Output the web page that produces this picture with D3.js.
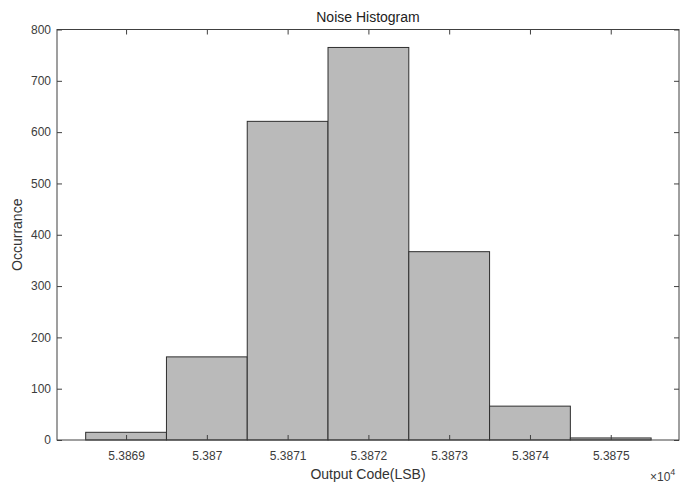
<!DOCTYPE html>
<html><head><meta charset="utf-8">
<script src="https://cdn.jsdelivr.net/npm/d3@7"></script>
<style>body{margin:0;background:#fff}svg{display:block}text{font-family:"Liberation Sans",Arial,sans-serif}</style>
</head><body>
<svg id="c" width="681" height="484"></svg>
<script>
const binCenters = [53869, 53870, 53871, 53872, 53873, 53874, 53875];
const counts = [15, 162, 621, 765, 367, 66, 4];
const xTicks = [53869, 53870, 53871, 53872, 53873, 53874, 53875];
const xTickLabels = ["5.3869", "5.387", "5.3871", "5.3872", "5.3873", "5.3874", "5.3875"];
const yTicks = [0, 100, 200, 300, 400, 500, 600, 700, 800];

const svg = d3.select("#c");
const L = 57, R = 679, T = 29.5, B = 440;
const x = d3.scaleLinear().domain([53868.145, 53875.845]).range([L, R]);
const y = d3.scaleLinear().domain([0, 800]).range([B, T]);
const axisCol = "#404040", textCol = "#3c3c3c";

svg.append("g").selectAll("rect").data(binCenters).join("rect")
  .attr("x", (d) => x(d - 0.5)).attr("width", (d) => x(d + 0.5) - x(d - 0.5))
  .attr("y", (d, i) => y(counts[i])).attr("height", (d, i) => y(0) - y(counts[i]))
  .attr("fill", "#bababa").attr("stroke", "#2e2e2e").attr("stroke-width", 1);

function styleAxis(g) {
  g.select(".domain").remove();
  g.selectAll("line").attr("stroke", axisCol);
  g.selectAll("text").attr("fill", textCol).attr("font-size", 12);
}
svg.append("g").attr("transform", `translate(0,${B})`)
  .call(d3.axisBottom(x).tickValues(xTicks).tickFormat((d, i) => xTickLabels[i]).tickSizeInner(-5).tickPadding(11))
  .call(styleAxis);
svg.append("g").attr("transform", `translate(0,${T})`)
  .call(d3.axisTop(x).tickValues(xTicks).tickFormat("").tickSizeInner(-5)).call(styleAxis);
svg.append("g").attr("transform", `translate(${L},0)`)
  .call(d3.axisLeft(y).tickValues(yTicks).tickSizeInner(-5).tickPadding(6)).call(styleAxis);
svg.append("g").attr("transform", `translate(${R},0)`)
  .call(d3.axisRight(y).tickValues(yTicks).tickFormat("").tickSizeInner(-5)).call(styleAxis);

svg.append("rect").attr("x", L).attr("y", T).attr("width", R - L).attr("height", B - T)
  .attr("fill", "none").attr("stroke", axisCol).attr("stroke-width", 1);

svg.append("text").attr("x", (L + R) / 2).attr("y", 21.5).attr("text-anchor", "middle")
  .attr("font-size", 14).attr("fill", "#222").text("Noise Histogram");
svg.append("text").attr("x", (L + R) / 2).attr("y", 479).attr("text-anchor", "middle")
  .attr("font-size", 14).attr("fill", "#333").text("Output Code(LSB)");
svg.append("text").attr("transform", `translate(22,${(T + B) / 2}) rotate(-90)`).attr("text-anchor", "middle")
  .attr("font-size", 14).attr("fill", "#333").text("Occurrance");
const ex = svg.append("text").attr("x", 650).attr("y", 481).attr("font-size", 12).attr("fill", textCol);
ex.append("tspan").text("\u00d710");
ex.append("tspan").attr("dy", -6).attr("font-size", 9).text("4");
</script>
</body></html>
